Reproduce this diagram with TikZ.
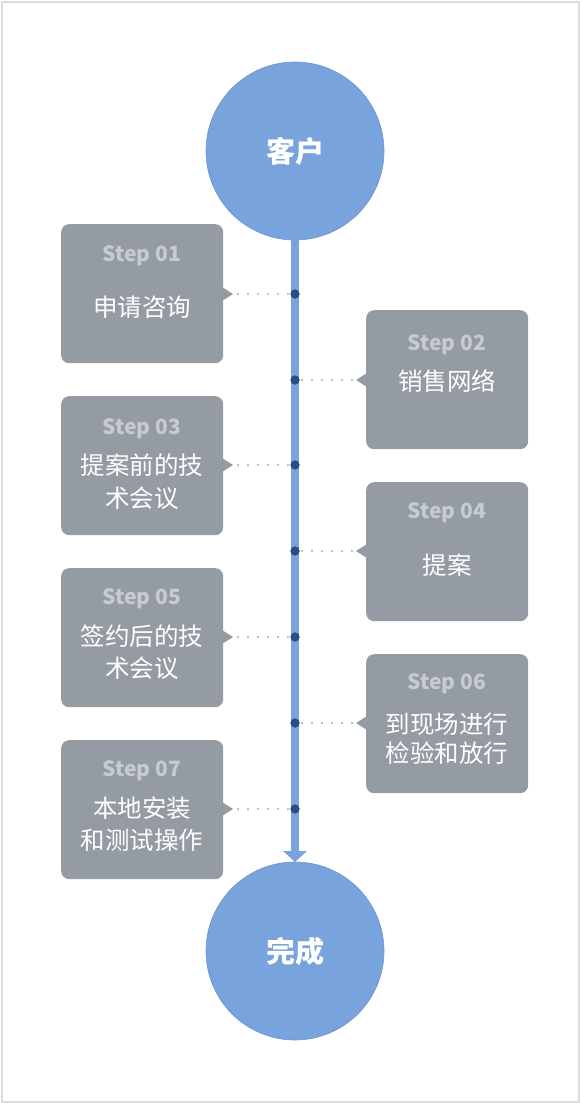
\documentclass[tikz,border=0pt]{standalone}
\usepackage{fontspec}
\setmainfont{Noto Sans CJK SC}
\definecolor{boxc}{HTML}{949BA3}
\definecolor{labc}{HTML}{C6CBD1}
\definecolor{circc}{HTML}{78A3DC}
\definecolor{circd}{HTML}{6A96D2}
\definecolor{dotc}{HTML}{2F4B84}
\definecolor{dlc}{HTML}{B9C4D2}
\definecolor{frame}{HTML}{DCDCDC}
\tikzset{
  stepbox/.style={fill=boxc, rounded corners=8pt, minimum width=162pt, minimum height=139pt, inner sep=0pt, anchor=north west},
  circ/.style={circle, fill=circc, draw=circd, line width=0.6pt, minimum size=178pt, inner sep=0pt, text=white, font=\fontsize{29}{32}\selectfont\bfseries},
  steplab/.style={text=labc, font=\fontsize{21}{23}\selectfont\bfseries, inner sep=0pt},
  steptxt/.style={text=white, font=\fontsize{24.5}{29}\selectfont, inner sep=0pt},
  tdot/.style={circle, fill=dotc, minimum size=9pt, inner sep=0pt},
  dline/.style={dlc, line width=2pt, dash pattern=on 2pt off 8pt},
  ptr/.style={fill=boxc}
}
\begin{document}
\begin{tikzpicture}[x=1pt,y=-1pt]
\useasboundingbox (0,0) rectangle (580,1103);
\draw[frame, line width=2pt] (1.5,1.5) rectangle (578.5,1101.5);
% spine
\node[circ] (top) at (295,151) {客户};
\node[circ] (bot) at (295,951) {完成};
\fill[circc] (291,240) rectangle (299,852);
\fill[circc] (283,851) -- (307,851) -- (295,862) -- cycle;
% boxes
\foreach \n/\side/\t/\ly/\dy in {1/L/224/256/294, 2/R/310/345/380, 3/L/396/429/465, 4/R/482/513/551, 5/L/568/599/637, 6/R/654/684/723, 7/L/740/771/809}{
  \if L\side
    \node[stepbox] (b\n) at (61,\t) {};
    \fill[boxc] (222,\dy-7) -- (233,\dy) -- (222,\dy+7) -- cycle;
    \coordinate (p\n) at (237,\dy);
    \node[steplab] (l\n) at (142,\ly) {Step 0\n};
  \else
    \node[stepbox] (b\n) at (366,\t) {};
    \fill[boxc] (367,\dy-7) -- (356,\dy) -- (367,\dy+7) -- cycle;
    \coordinate (p\n) at (353,\dy);
    \node[steplab] (l\n) at (447,\ly) {Step 0\n};
  \fi
  \node[tdot] (d\n) at (295,\dy) {};
  \draw[dline] (p\n) -- (d\n.center);
  \node[tdot] at (295,\dy) {};
}
% texts
\node[steptxt] (t1) at (142,307) {申请咨询};
\node[steptxt] (t2) at (447,381) {销售网络};
\node[steptxt] (t3a) at (142,465) {提案前的技};
\node[steptxt] (t3b) at (142,498) {术会议};
\node[steptxt] (t4) at (447,565) {提案};
\node[steptxt] (t5a) at (142,636) {签约后的技};
\node[steptxt] (t5b) at (142,668) {术会议};
\node[steptxt] (t6a) at (447,724) {到现场进行};
\node[steptxt] (t6b) at (447,753) {检验和放行};
\node[steptxt] (t7a) at (142,808) {本地安装};
\node[steptxt] (t7b) at (142,840) {和测试操作};
\end{tikzpicture}
\end{document}
